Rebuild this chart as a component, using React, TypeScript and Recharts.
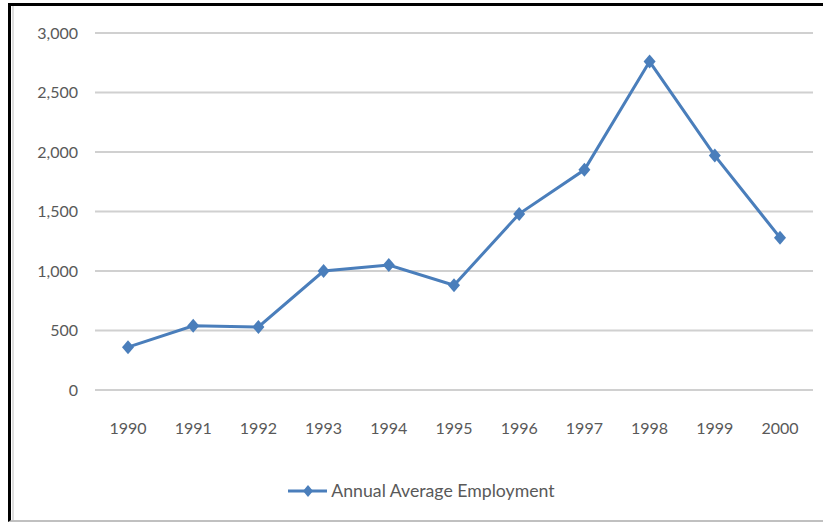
import React from 'react';
import { LineChart, Line, XAxis, YAxis, CartesianGrid, Legend } from 'recharts';

const years = ['1990', '1991', '1992', '1993', '1994', '1995', '1996', '1997', '1998', '1999', '2000'];
const employment = [360, 540, 530, 1000, 1050, 880, 1480, 1850, 2760, 1970, 1280];
const yTicks = [0, 500, 1000, 1500, 2000, 2500, 3000];

const data = years.map((year, i) => ({ year, value: employment[i] }));

const BLUE = '#4a7ebb';
const TEXT = '#595959';
const FONT = 'Lato, "Liberation Sans", sans-serif';

const Diamond = (props: any) => {
  const { cx, cy, index } = props;
  if (cx == null || cy == null) return null;
  return (
    <polygon
      key={index}
      points={`${cx},${cy - 7} ${cx + 6},${cy} ${cx},${cy + 7} ${cx - 6},${cy}`}
      fill={BLUE}
    />
  );
};

const renderLegend = () => (
  <div
    style={{
      display: 'flex',
      justifyContent: 'center',
      alignItems: 'center',
      paddingLeft: 30,
      fontFamily: FONT,
      fontSize: 17.7,
      color: TEXT,
    }}
  >
    <svg width={39} height={14} style={{ marginRight: 4 }}>
      <line x1={0} y1={7} x2={39} y2={7} stroke={BLUE} strokeWidth={3} />
      <polygon points="20,1 25,7 20,13 15,7" fill={BLUE} />
    </svg>
    <span>Annual Average Employment</span>
  </div>
);

export default function App() {
  return (
    <div style={{ position: 'absolute', left: 0, top: 0, width: 823, height: 525, background: '#fff' }}>
      <div
        style={{
          position: 'absolute',
          left: 8,
          top: 3,
          width: 815,
          height: 519,
          borderLeft: '3px solid #000',
          borderTop: '3px solid #000',
          borderBottom: '2px solid #c0c0c0',
          boxSizing: 'border-box',
        }}
      >
        <div style={{ position: 'absolute', left: 1, top: 0, bottom: 0, width: 2, background: '#dedede' }} />
      </div>
      <div style={{ position: 'absolute', left: 0, top: 0 }}>
        <LineChart width={823} height={525} data={data} margin={{ top: 33, right: 10, bottom: 15, left: 0 }}>
          <CartesianGrid vertical={false} stroke="#d0d0d0" strokeWidth={2} />
          <XAxis
            dataKey="year"
            axisLine={false}
            tickLine={false}
            tickSize={0}
            tickMargin={33}
            height={90}
            padding={{ left: 33, right: 33 }}
            tick={{ fill: TEXT, fontSize: 16, fontFamily: FONT }}
          />
          <YAxis
            domain={[0, 3000]}
            ticks={yTicks}
            width={95}
            axisLine={false}
            tickLine={false}
            tickSize={0}
            tickMargin={17}
            tickFormatter={(v: number) => v.toLocaleString('en-US')}
            tick={{ fill: TEXT, fontSize: 16, fontFamily: FONT }}
          />
          <Legend verticalAlign="bottom" height={30} content={renderLegend} />
          <Line
            type="linear"
            dataKey="value"
            name="Annual Average Employment"
            stroke={BLUE}
            strokeWidth={3}
            dot={Diamond}
            activeDot={false}
            isAnimationActive={false}
          />
        </LineChart>
      </div>
    </div>
  );
}
